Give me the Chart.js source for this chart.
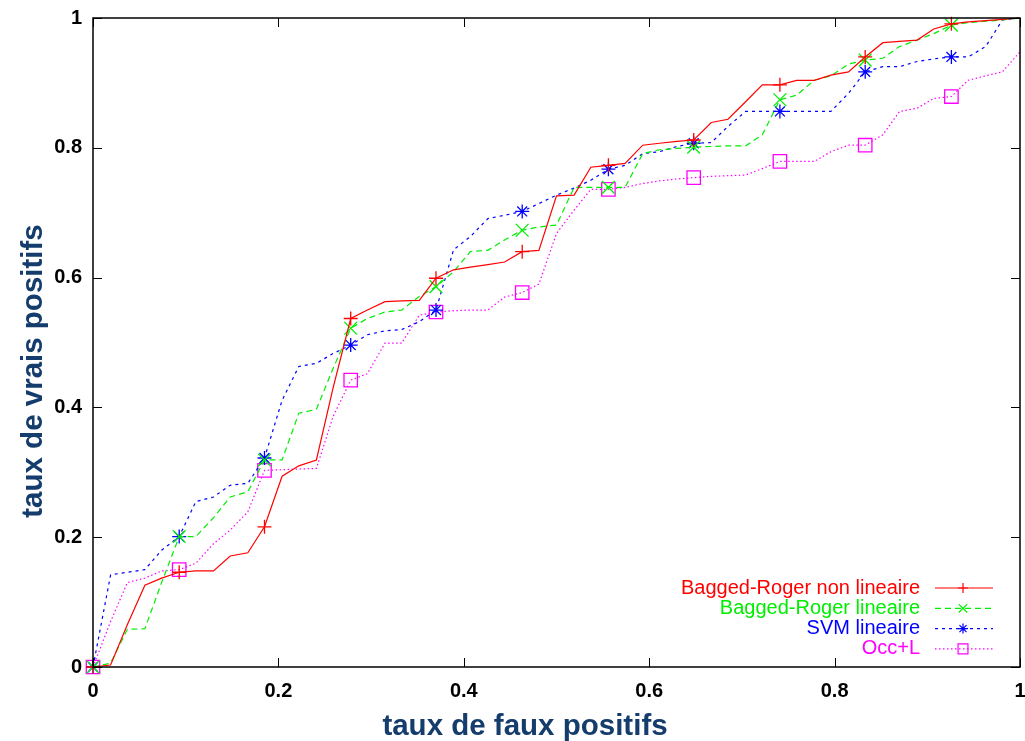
<!DOCTYPE html>
<html>
<head>
<meta charset="utf-8">
<script src="https://cdn.jsdelivr.net/npm/chart.js@4"></script>
<style>
  html, body { margin: 0; padding: 0; background: #fff; }
  #wrap { width: 1025px; height: 741px; }
</style>
</head>
<body>
<div id="wrap"><canvas id="roc"></canvas></div>
<script>
// taux de faux positifs (54 negatives -> steps of 1/54)
const fpr = [0, 0.019, 0.037, 0.056, 0.074, 0.093, 0.111, 0.130, 0.148, 0.167,
  0.185, 0.204, 0.222, 0.241, 0.259, 0.278, 0.296, 0.315, 0.333, 0.352,
  0.370, 0.389, 0.407, 0.426, 0.444, 0.463, 0.481, 0.500, 0.519, 0.537,
  0.556, 0.574, 0.593, 0.611, 0.630, 0.648, 0.667, 0.685, 0.704, 0.722,
  0.741, 0.759, 0.778, 0.796, 0.815, 0.833, 0.852, 0.870, 0.889, 0.907,
  0.926, 0.944, 0.963, 0.981, 1];

const baggedNonLin = [0, 0.003, 0.065, 0.126, 0.137, 0.146, 0.148, 0.148, 0.171, 0.176,
  0.216, 0.294, 0.310, 0.319, 0.430, 0.537, 0.550, 0.563, 0.564, 0.565,
  0.599, 0.612, 0.616, 0.620, 0.624, 0.640, 0.642, 0.726, 0.727, 0.770,
  0.773, 0.776, 0.804, 0.807, 0.810, 0.812, 0.839, 0.844, 0.871, 0.897,
  0.897, 0.904, 0.904, 0.912, 0.917, 0.940, 0.962, 0.964, 0.966, 0.983,
  0.991, 0.994, 0.996, 0.998, 1];

const baggedLin = [0, 0.006, 0.058, 0.059, 0.130, 0.201, 0.201, 0.230, 0.262, 0.270,
  0.319, 0.319, 0.391, 0.397, 0.460, 0.522, 0.537, 0.547, 0.550, 0.571,
  0.586, 0.609, 0.640, 0.642, 0.658, 0.673, 0.678, 0.681, 0.739, 0.739,
  0.739, 0.739, 0.791, 0.797, 0.799, 0.801, 0.802, 0.803, 0.803, 0.820,
  0.874, 0.881, 0.904, 0.911, 0.929, 0.935, 0.938, 0.956, 0.966, 0.976,
  0.989, 0.993, 0.995, 0.997, 1];

const svmLin = [0, 0.142, 0.146, 0.150, 0.180, 0.201, 0.255, 0.262, 0.280, 0.283,
  0.322, 0.411, 0.463, 0.468, 0.483, 0.496, 0.512, 0.518, 0.520, 0.532,
  0.550, 0.643, 0.663, 0.691, 0.696, 0.702, 0.714, 0.727, 0.738, 0.750,
  0.767, 0.773, 0.791, 0.794, 0.802, 0.807, 0.808, 0.833, 0.856, 0.856,
  0.856, 0.856, 0.856, 0.856, 0.884, 0.917, 0.925, 0.925, 0.933, 0.937,
  0.940, 0.940, 0.956, 0.997, 1];

const occL = [0, 0.070, 0.130, 0.137, 0.148, 0.150, 0.160, 0.190, 0.211, 0.239,
  0.303, 0.304, 0.305, 0.306, 0.386, 0.442, 0.452, 0.499, 0.499, 0.542,
  0.547, 0.549, 0.550, 0.550, 0.570, 0.577, 0.590, 0.668, 0.704, 0.736,
  0.736, 0.739, 0.745, 0.749, 0.752, 0.754, 0.756, 0.757, 0.758, 0.768,
  0.779, 0.779, 0.779, 0.794, 0.804, 0.804, 0.820, 0.856, 0.861, 0.876,
  0.879, 0.904, 0.911, 0.917, 0.948];

const xTicks = [0, 0.2, 0.4, 0.6, 0.8, 1];
const yTicks = [0, 0.2, 0.4, 0.6, 0.8, 1];
const xTitle = 'taux de faux positifs';
const yTitle = 'taux de vrais positifs';

const series = [
  { label: 'Bagged-Roger non lineaire', values: baggedNonLin, color: '#ff0000', dash: [], style: 'cross', r: 7, lr: 5 },
  { label: 'Bagged-Roger lineaire', values: baggedLin, color: '#00ee00', dash: [6, 4], style: 'crossRot', r: 9, lr: 6 },
  { label: 'SVM lineaire', values: svmLin, color: '#0000ff', dash: [3, 4], style: 'star', r: 7, lr: 5 },
  { label: 'Occ+L', values: occL, color: '#ff00ff', dash: [1.5, 2.5], style: 'rect', r: 9.5, lr: 7 },
];

const titleColor = '#143c6c';
const font = "'Liberation Sans', Arial, sans-serif";

// frame, inward ticks on all four sides, axis titles and the legend
const framePlugin = {
  id: 'frame',
  afterDraw(chart) {
    const ctx = chart.ctx;
    const a = chart.chartArea;
    const xs = chart.scales.x;
    const ys = chart.scales.y;
    ctx.save();
    ctx.strokeStyle = '#000';
    ctx.lineWidth = 1.5;
    ctx.setLineDash([]);
    ctx.strokeRect(a.left, a.top, a.right - a.left, a.bottom - a.top);
    ctx.lineWidth = 1;
    const len = 9;
    ctx.beginPath();
    xTicks.forEach(v => {
      const px = Math.round(xs.getPixelForValue(v)) + 0.5;
      ctx.moveTo(px, a.bottom); ctx.lineTo(px, a.bottom - len);
      ctx.moveTo(px, a.top); ctx.lineTo(px, a.top + len);
    });
    yTicks.forEach(v => {
      const py = Math.round(ys.getPixelForValue(v)) + 0.5;
      ctx.moveTo(a.left, py); ctx.lineTo(a.left + len, py);
      ctx.moveTo(a.right, py); ctx.lineTo(a.right - len, py);
    });
    ctx.stroke();

    // axis titles (gnuplot centres them on the page, not the plot)
    ctx.fillStyle = titleColor;
    ctx.font = 'bold 29.5px ' + font;
    ctx.textAlign = 'center';
    ctx.textBaseline = 'alphabetic';
    ctx.fillText(xTitle, 525, 735);
    ctx.save();
    ctx.translate(42, 371);
    ctx.rotate(-Math.PI / 2);
    ctx.fillText(yTitle, 0, 0);
    ctx.restore();

    // legend
    const textRight = 920;
    const lineFrom = 935, lineTo = 993, markX = 963;
    let y = 588;
    ctx.font = '20px ' + font;
    ctx.textAlign = 'right';
    ctx.textBaseline = 'middle';
    series.forEach(s => {
      ctx.fillStyle = s.color;
      ctx.fillText(s.label, textRight, y);
      ctx.strokeStyle = s.color;
      ctx.lineWidth = 1.2;
      ctx.setLineDash(s.dash);
      ctx.beginPath();
      ctx.moveTo(lineFrom, y); ctx.lineTo(lineTo, y);
      ctx.stroke();
      ctx.setLineDash([]);
      ctx.fillStyle = 'rgba(0,0,0,0)';
      Chart.helpers.drawPoint(ctx, { pointStyle: s.style, radius: s.lr, rotation: 0, borderWidth: 1.2 }, markX, y);
      y += 20.3;
    });
    ctx.restore();
  }
};

const datasets = series.map(s => ({
  label: s.label,
  data: s.values.map((v, i) => ({ x: fpr[i], y: v })),
  borderColor: s.color,
  backgroundColor: 'rgba(0,0,0,0)',
  borderWidth: 1.2,
  borderDash: s.dash,
  pointStyle: s.style,
  pointBorderColor: s.color,
  pointBackgroundColor: 'rgba(0,0,0,0)',
  pointBorderWidth: 1.3,
  pointRadius: c => (c.dataIndex % 5 === 0 && c.dataIndex <= 50 ? s.r : 0),
  pointHoverRadius: 0,
  tension: 0,
  fill: false,
  clip: false,
}));

const tickFont = { family: font, size: 20, weight: 'bold' };
const tickLabel = v => (v === 0 || v === 1 ? String(v) : v.toFixed(1));

new Chart(document.getElementById('roc'), {
  type: 'line',
  data: { datasets },
  plugins: [framePlugin],
  options: {
    responsive: true,
    maintainAspectRatio: false,
    animation: false,
    events: [],
    layout: { padding: 0, autoPadding: false },
    plugins: {
      legend: { display: false },
      tooltip: { enabled: false },
    },
    scales: {
      x: {
        type: 'linear',
        min: 0,
        max: 1,
        border: { display: false },
        grid: { display: false, drawTicks: false },
        afterBuildTicks: s => { s.ticks = xTicks.map(v => ({ value: v })); },
        afterFit: s => { s.height = 74; s.paddingLeft = 0; s.paddingRight = 5; },
        ticks: { color: '#000', padding: 12, font: tickFont, callback: tickLabel },
      },
      y: {
        type: 'linear',
        min: 0,
        max: 1,
        border: { display: false },
        grid: { display: false, drawTicks: false },
        afterBuildTicks: s => { s.ticks = yTicks.map(v => ({ value: v })); },
        afterFit: s => { s.width = 93; s.paddingTop = 18; s.paddingBottom = 0; },
        ticks: { color: '#000', padding: 11, font: tickFont, callback: tickLabel },
      },
    },
  },
});
</script>
</body>
</html>
